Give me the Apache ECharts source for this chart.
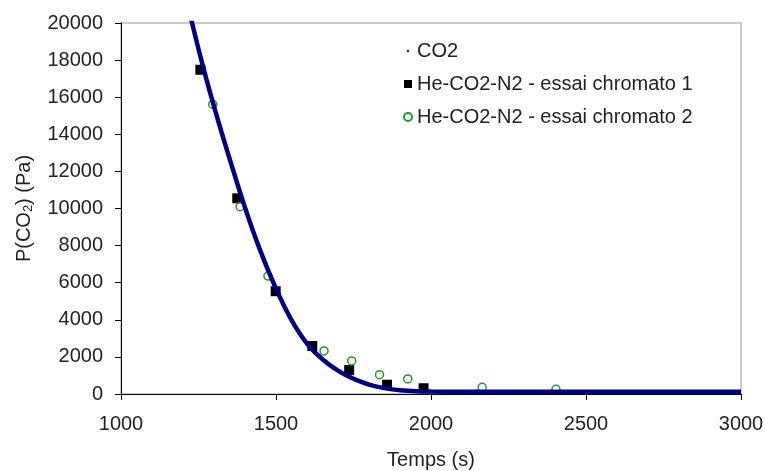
<!DOCTYPE html>
<html>
<head>
<meta charset="utf-8">
<script src="https://cdn.jsdelivr.net/npm/echarts@6/dist/echarts.min.js"></script>
<style>
  html, body { margin: 0; padding: 0; background: #fff; }
  #chart { width: 765px; height: 471px; }
</style>
</head>
<body>
<div id="chart"></div>
<script>
// model curve CO2 (time s, pressure Pa)
var co2Time = [1215, 1225, 1250, 1275, 1300, 1325, 1350, 1375, 1400, 1425, 1450, 1475, 1500, 1525, 1550, 1575, 1600, 1625, 1650, 1675, 1700, 1725, 1750, 1775, 1800, 1825, 1850, 1875, 1900, 1950, 2000, 2100, 2300, 2600, 3000];
var co2P = [21000, 20300, 18600, 17000, 15500, 14070, 12700, 11350, 10050, 8830, 7700, 6650, 5680, 4790, 3990, 3300, 2720, 2260, 1870, 1540, 1260, 1020, 820, 650, 510, 400, 320, 250, 200, 150, 130, 120, 120, 120, 120];

// essai chromato 1
var run1Time = [1256, 1375, 1499, 1617, 1736, 1858, 1976];
var run1P = [17480, 10550, 5540, 2590, 1290, 500, 310];

// essai chromato 2
var run2Time = [1296, 1384, 1474, 1655, 1744, 1834, 1925, 2165, 2403];
var run2P = [15620, 10100, 6360, 2320, 1780, 1040, 810, 360, 250];

var seriesNames = ['CO2', 'He-CO2-N2 - essai chromato 1', 'He-CO2-N2 - essai chromato 2'];

function pairs(xs, ys) {
    return xs.map(function (x, i) { return [x, ys[i]]; });
}

var chart = echarts.init(document.getElementById('chart'));

var font = '"Liberation Sans", Arial, sans-serif';
var textColor = '#222';

var option = {
    backgroundColor: '#fff',
    animation: false,
    grid: {
        left: 121,
        right: 24,
        top: 23,
        bottom: 77,
        outerBoundsMode: 'none',
        show: true,
        borderColor: '#999',
        borderWidth: 1
    },
    legend: {
        orient: 'vertical',
        left: 398,
        top: 36,
        itemGap: 13,
        itemWidth: 8,
        itemHeight: 8,
        textStyle: { fontFamily: font, fontSize: 20, color: textColor },
        data: [
            { name: seriesNames[0], icon: 'path://M0,0L0.01,0M8,8L8.01,8M4,2.5L5.5,4L4,5.5L2.5,4Z' },
            { name: seriesNames[1], icon: 'rect' },
            { name: seriesNames[2], icon: 'circle' }
        ]
    },
    xAxis: {
        type: 'value',
        min: 1000,
        max: 3000,
        interval: 500,
        name: 'Temps (s)',
        nameLocation: 'middle',
        nameGap: 56,
        nameTextStyle: { fontFamily: font, fontSize: 20, color: textColor },
        axisLine: { lineStyle: { color: '#000', width: 1 } },
        axisTick: { show: true, length: 6, lineStyle: { color: '#000' } },
        axisLabel: { fontFamily: font, fontSize: 20, color: textColor, margin: 20, formatter: function (v) { return String(v); } },
        splitLine: { show: false }
    },
    yAxis: {
        type: 'value',
        min: 0,
        max: 20000,
        interval: 2000,
        name: 'P(CO{sub|2}) (Pa)',
        nameLocation: 'middle',
        nameGap: 86,
        nameTextStyle: {
            fontFamily: font, fontSize: 20, color: textColor,
            rich: {
                sub: { fontFamily: font, fontSize: 13, color: textColor, verticalAlign: 'bottom', padding: [8, 0, 0, 0] }
            }
        },
        axisLine: { show: true, lineStyle: { color: '#000', width: 1 } },
        axisTick: { show: true, length: 6, lineStyle: { color: '#000' } },
        axisLabel: { fontFamily: font, fontSize: 20, color: textColor, margin: 18, formatter: function (v) { return String(v); } },
        splitLine: { show: false }
    },
    series: [
        {
            name: seriesNames[0],
            type: 'line',
            data: pairs(co2Time, co2P),
            smooth: 0.3,
            showSymbol: false,
            clip: true,
            color: '#000080',
            lineStyle: { color: '#000080', width: 4.5 },
            itemStyle: { color: '#000080' }
        },
        {
            name: seriesNames[1],
            type: 'scatter',
            data: pairs(run1Time, run1P),
            symbol: 'rect',
            symbolSize: 10,
            itemStyle: { color: '#000', opacity: 1 }
        },
        {
            name: seriesNames[2],
            type: 'scatter',
            data: pairs(run2Time, run2P),
            symbol: 'circle',
            symbolSize: 8,
            itemStyle: { color: 'rgba(255,255,255,0)', borderColor: '#1f9a1f', borderWidth: 1.5, opacity: 1 }
        }
    ]
};

chart.setOption(option);
</script>
</body>
</html>
